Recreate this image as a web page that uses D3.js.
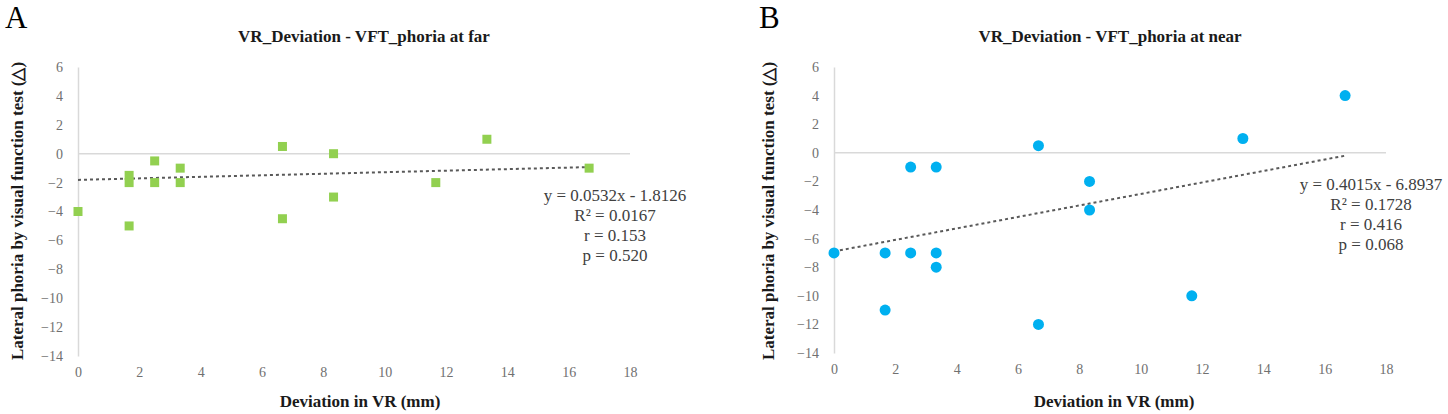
<!DOCTYPE html>
<html>
<head>
<meta charset="utf-8">
<script src="https://cdn.jsdelivr.net/npm/d3@7"></script>
<style>
  body { margin: 0; background: #fff; }
  svg { display: block; }
  svg text { font-family: "Liberation Serif", "Times New Roman", serif; }
</style>
</head>
<body>
<svg id="chart" width="1448" height="414"></svg>
<script>
// tick values shared by both panels
var xTicks = [0, 2, 4, 6, 8, 10, 12, 14, 16, 18];
var yTicks = [-14, -12, -10, -8, -6, -4, -2, 0, 2, 4, 6];

// panel A: phoria at far
var farX = [0, 1.667, 1.667, 1.667, 2.5, 2.5, 3.333, 3.333, 6.667, 6.667, 8.333, 8.333, 11.667, 13.333, 16.667];
var farY = [-4, -1.5, -2, -5, -0.5, -2, -1, -2, 0.5, -4.5, 0, -3, -2, 1, -1];
var farFit = [0.0532, -1.8126];
var farStats = ["y = 0.0532x - 1.8126", "R\u00b2 = 0.0167", "r = 0.153", "p = 0.520"];

// panel B: phoria at near
var nearX = [0, 1.667, 1.667, 2.5, 2.5, 3.333, 3.333, 3.333, 6.667, 6.667, 8.333, 8.333, 11.667, 13.333, 16.667];
var nearY = [-7, -7, -11, -7, -1, -7, -8, -1, 0.5, -12, -2, -4, -10, 1, 4];
var nearFit = [0.4015, -6.8937];
var nearStats = ["y = 0.4015x - 6.8937", "R\u00b2 = 0.1728", "r = 0.416", "p = 0.068"];

var svg = d3.select("#chart");

function drawPanel(p) {
    var g = svg.append("g");
    var x = d3.scaleLinear().domain([0, 18]).range([p.left, p.right]);
    var y = d3.scaleLinear().domain([-14, 6]).range([p.bottom, p.top]);

    // panel letter
    g.append("text")
        .attr("x", p.letterX).attr("y", 28)
        .attr("font-size", "31px").attr("fill", "#000")
        .text(p.letter);

    // title
    g.append("text")
        .attr("x", p.titleX).attr("y", 42)
        .attr("text-anchor", "middle")
        .attr("font-size", "17px").attr("font-weight", "bold").attr("fill", "#1a1a1a")
        .text(p.title);

    // zero line
    g.append("line")
        .attr("x1", x(0)).attr("x2", x(18))
        .attr("y1", y(0)).attr("y2", y(0))
        .attr("stroke", "#d9d9d9").attr("stroke-width", 1.5);

    // y axis
    g.append("g")
        .attr("transform", "translate(" + x(0) + ",0)")
        .call(d3.axisLeft(y).tickValues(yTicks).tickSize(0).tickSizeOuter(0).tickPadding(15))
        .call(function (a) { a.select(".domain").attr("stroke", "#d9d9d9").attr("stroke-width", 1.5); })
        .call(function (a) { a.selectAll("text")
            .style("font-family", "'Liberation Serif', serif")
            .style("font-size", "14px").attr("fill", "#707070"); });

    // x axis labels along the bottom
    g.append("g")
        .attr("transform", "translate(0," + y(-14) + ")")
        .call(d3.axisBottom(x).tickValues(xTicks).tickSize(0).tickPadding(11))
        .call(function (a) { a.select(".domain").remove(); })
        .call(function (a) { a.selectAll("text")
            .style("font-family", "'Liberation Serif', serif")
            .style("font-size", "14px").attr("fill", "#707070"); });

    // axis titles
    g.append("text")
        .attr("x", p.xTitleX).attr("y", 407)
        .attr("text-anchor", "middle")
        .attr("font-size", "17px").attr("font-weight", "bold").attr("fill", "#1a1a1a")
        .text("Deviation in VR (mm)");

    g.append("text")
        .attr("transform", "translate(" + p.yTitleX + "," + p.yTitleY + ") rotate(-90)")
        .attr("text-anchor", "middle")
        .attr("font-size", "17px").attr("font-weight", "bold").attr("fill", "#1a1a1a")
        .text("Lateral phoria by visual function test (\u25b3)");

    // trend line
    var x0 = d3.min(p.xs), x1 = d3.max(p.xs);
    g.append("line")
        .attr("x1", x(x0)).attr("y1", y(p.fit[0] * x0 + p.fit[1]))
        .attr("x2", x(x1)).attr("y2", y(p.fit[0] * x1 + p.fit[1]))
        .attr("stroke", "#595959").attr("stroke-width", 2)
        .attr("stroke-dasharray", "3,3");

    // points
    var pts = d3.range(p.xs.length).map(function (i) { return [p.xs[i], p.ys[i]]; });
    if (p.shape === "square") {
        g.append("g").selectAll("rect")
            .data(pts)
            .join("rect")
            .attr("x", function (d) { return x(d[0]) - 4.5; })
            .attr("y", function (d) { return y(d[1]) - 4.5; })
            .attr("width", 9).attr("height", 9)
            .attr("fill", p.color);
    } else {
        g.append("g").selectAll("circle")
            .data(pts)
            .join("circle")
            .attr("cx", function (d) { return x(d[0]); })
            .attr("cy", function (d) { return y(d[1]); })
            .attr("r", 5.5)
            .attr("fill", p.color);
    }

    // equation block
    g.append("g").selectAll("text")
        .data(p.stats)
        .join("text")
        .attr("x", p.statsX)
        .attr("y", function (d, i) { return p.statsY + i * 20; })
        .attr("text-anchor", "middle")
        .attr("font-size", "17px").attr("fill", "#404040")
        .text(function (d) { return d; });
}

drawPanel({
    letter: "A", letterX: 5, title: "VR_Deviation - VFT_phoria at far", titleX: 364,
    left: 78, right: 630, top: 67, bottom: 356,
    xTitleX: 360, yTitleX: 23, yTitleY: 211,
    xs: farX, ys: farY, fit: farFit, stats: farStats,
    statsX: 615, statsY: 201, shape: "square", color: "#92d050"
});

drawPanel({
    letter: "B", letterX: 759, title: "VR_Deviation - VFT_phoria at near", titleX: 1110,
    left: 834, right: 1386, top: 67, bottom: 353,
    xTitleX: 1114, yTitleX: 774, yTitleY: 211,
    xs: nearX, ys: nearY, fit: nearFit, stats: nearStats,
    statsX: 1371, statsY: 190, shape: "circle", color: "#00b0f0"
});
</script>
</body>
</html>
